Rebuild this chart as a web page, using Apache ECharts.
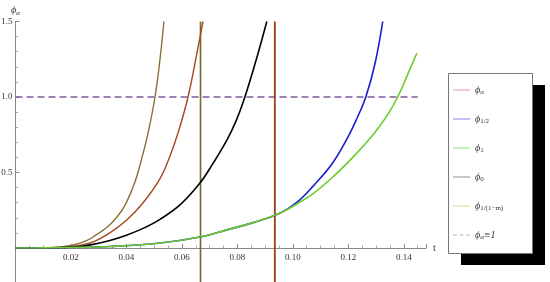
<!DOCTYPE html>
<html>
<head>
<meta charset="utf-8">
<script src="https://cdn.jsdelivr.net/npm/echarts@6.0.0/dist/echarts.min.js"></script>
<style>html,body{margin:0;padding:0;background:#fff;}#c{width:550px;height:282px;}</style>
</head>
<body>
<div id="c"></div>
<script>
// ---- data ----
const oliveT = [0, 0.01, 0.016, 0.022, 0.028, 0.0366, 0.0423, 0.0459, 0.0479, 0.0503, 0.0521, 0.0535];
const oliveV = [0, 0.001, 0.007, 0.025, 0.073, 0.205, 0.40, 0.62, 0.77, 1.0, 1.25, 1.5];

const redT = [0, 0.01, 0.016, 0.022, 0.028, 0.034, 0.0401, 0.046, 0.0521, 0.0557, 0.0589, 0.0622, 0.0653, 0.0676];
const redV = [0, 0.001, 0.004, 0.013, 0.04, 0.10, 0.185, 0.30, 0.46, 0.61, 0.78, 1.0, 1.28, 1.5];

const blackT = [0, 0.01, 0.016, 0.022, 0.028, 0.034, 0.040, 0.046, 0.0521, 0.0593, 0.0665, 0.0712, 0.0762, 0.0795, 0.0827, 0.087, 0.0906];
const blackV = [0, 0.0005, 0.002, 0.008, 0.024, 0.05, 0.085, 0.13, 0.19, 0.285, 0.43, 0.56, 0.715, 0.84, 1.0, 1.26, 1.5];

const blueT = [0, 0.01, 0.02, 0.034, 0.0521, 0.0665, 0.0762, 0.0857, 0.0953, 0.1013, 0.1073, 0.1144, 0.120, 0.123, 0.1263, 0.1296, 0.1324];
const blueV = [0, 0.0005, 0.003, 0.01, 0.033, 0.073, 0.12, 0.168, 0.23, 0.30, 0.41, 0.565, 0.74, 0.854, 1.0, 1.22, 1.5];

const greenT = [0, 0.01, 0.02, 0.034, 0.0521, 0.0665, 0.0762, 0.0857, 0.0953, 0.1013, 0.1073, 0.1144, 0.1216, 0.1266, 0.1306, 0.1346, 0.1378, 0.1414, 0.1447];
const greenV = [0, 0.0005, 0.003, 0.01, 0.033, 0.073, 0.12, 0.168, 0.23, 0.29, 0.36, 0.47, 0.60, 0.70, 0.79, 0.895, 1.0, 1.15, 1.29];

const unitLineT = [0, 0.145];
const unitLineV = [1, 1];

const vline1T = [0.0667, 0.0667];
const vline2T = [0.0935, 0.0935];
const vlineUpperV = [0, 1.5];
const vlineLowerV = [-0.225, 0];

const xTicks = [0.02, 0.04, 0.06, 0.08, 0.10, 0.12, 0.14];
const yTicks = [0.5, 1.0, 1.5];

const legendNames = ['phiA', 'phiHalf', 'phiOne', 'phiZero', 'phiM', 'phiEq1'];
const legendLabels = {
  phiA: '{b|ϕ}{s|α}',
  phiHalf: '{b|ϕ}{s|1/2}',
  phiOne: '{b|ϕ}{s|1}',
  phiZero: '{b|ϕ}{s|0}',
  phiM: '{b|ϕ}{s|1/(1−m)}',
  phiEq1: '{b|ϕ}{s|α}{b|≡1}'
};
const legendColors = ['#e49a96', '#8282ee', '#92dc82', '#8c8c8c', '#c8df98', '#b8b8c8'];

// ---- build ----
const zip = (t, v) => t.map((x, i) => [x, v[i]]);
const serif = 'Liberation Serif';
const axisGrey = '#888';
const solidIcon = 'path://M0,0H17V1H0Z';
const dashIcon = 'path://M0,0H4V1H0Z M6.5,0H10.5V1H6.5Z M13,0H17V1H13Z';

function lineSeries(name, t, v, color, width, extra) {
  return Object.assign({
    name: name, type: 'line', data: zip(t, v), showSymbol: false, symbol: 'none',
    smooth: 0.4,
    lineStyle: { color: color, width: width }, itemStyle: { color: color },
    animation: false, silent: true
  }, extra || {});
}

const chart = echarts.init(document.getElementById('c'), null, { renderer: 'canvas' });
chart.setOption({
  animation: false,
  backgroundColor: '#fff',
  grid: [
    { left: 15.5, right: 124, top: 21.5, bottom: 34, containLabel: false, outerBoundsMode: 'none' },
    { left: 15.5, right: 124, top: 248, bottom: 0, containLabel: false, outerBoundsMode: 'none' }
  ],
  xAxis: [{
    gridIndex: 0, type: 'value', min: 0, max: 0.148, interval: 0.02,
    name: 't', nameLocation: 'end', nameGap: 7,
    nameTextStyle: { fontFamily: serif, fontSize: 10, color: '#333', verticalAlign: 'middle' },
    axisLine: { onZero: false, lineStyle: { color: axisGrey, width: 1 } },
    axisTick: { inside: true, length: 4, lineStyle: { color: axisGrey } },
    minorTick: { show: true, splitNumber: 4, length: 2.5, lineStyle: { color: '#aaa' } },
    splitLine: { show: false },
    axisLabel: {
      fontFamily: serif, fontSize: 9, color: '#333', margin: 5, showMaxLabel: false,
      formatter: v => xTicks.some(x => Math.abs(x - v) < 1e-9) ? v.toFixed(2) : ''
    }
  }, {
    gridIndex: 1, type: 'value', min: 0, max: 0.148, show: false
  }],
  yAxis: [{
    gridIndex: 0, type: 'value', min: 0, max: 1.5, interval: 0.5,
    name: '{b|ϕ}{s|α}', nameLocation: 'end', nameGap: 5,
    nameTextStyle: {
      align: 'center',
      rich: {
        b: { fontFamily: serif, fontSize: 10, color: '#333', fontStyle: 'italic' },
        s: { fontFamily: serif, fontSize: 7, color: '#333', fontStyle: 'italic', padding: [5, 0, 0, 0] }
      }
    },
    axisLine: { onZero: false, lineStyle: { color: axisGrey, width: 1 } },
    axisTick: { inside: true, length: 4, lineStyle: { color: axisGrey } },
    minorTick: { show: true, splitNumber: 5, length: 2.5, lineStyle: { color: '#aaa' } },
    splitLine: { show: false },
    axisLabel: {
      fontFamily: serif, fontSize: 9, color: '#333', margin: 3,
      formatter: v => yTicks.some(y => Math.abs(y - v) < 1e-9) ? v.toFixed(1) : ''
    }
  }, {
    gridIndex: 1, type: 'value', min: -0.225, max: 0,
    axisLine: { onZero: false, lineStyle: { color: axisGrey, width: 1 } },
    axisTick: { show: false }, axisLabel: { show: false }, splitLine: { show: false }
  }],
  graphic: [
    { type: 'rect', z: 1, shape: { x: 461, y: 85, width: 84, height: 180 }, style: { fill: '#000' }, silent: true },
    { type: 'rect', z: 2, shape: { x: 448.5, y: 73.5, width: 84, height: 180 }, style: { fill: '#fff', stroke: '#777', lineWidth: 1 }, silent: true }
  ],
  legend: {
    z: 10, orient: 'vertical', left: 453, top: 85,
    padding: 0, itemGap: 18, itemWidth: 17, itemHeight: 14, itemTextGap: 12,
    selectedMode: false, symbolKeepAspect: true,
    data: legendNames.map((n, i) => ({
      name: n,
      icon: n === 'phiEq1' ? dashIcon : solidIcon,
      itemStyle: { color: legendColors[i], borderWidth: 0 }
    })),
    formatter: n => legendLabels[n],
    textStyle: {
      rich: {
        b: { fontFamily: serif, fontSize: 10, color: '#333', fontStyle: 'italic' },
        s: { fontFamily: serif, fontSize: 7, color: '#333', padding: [5, 0, 0, 0] }
      }
    }
  },
  series: [
    lineSeries('phiEq1', unitLineT, unitLineV, '#7b5c9c', 1.5, { smooth: false, lineStyle: { color: '#7b5c9c', width: 1.5, type: [7, 4] } }),
    lineSeries('vline1', vline1T, vlineUpperV, '#77692b', 1.6, { smooth: false }),
    lineSeries('vline2', vline2T, vlineUpperV, '#9c3d1c', 1.8, { smooth: false }),
    lineSeries('vline1b', vline1T, vlineLowerV, '#77692b', 1.6, { smooth: false, xAxisIndex: 1, yAxisIndex: 1 }),
    lineSeries('vline2b', vline2T, vlineLowerV, '#9c3d1c', 1.8, { smooth: false, xAxisIndex: 1, yAxisIndex: 1 }),
    lineSeries('phiM', oliveT, oliveV, '#8a7236', 1.4),
    lineSeries('phiA', redT, redV, '#a4471f', 1.4),
    lineSeries('phiZero', blackT, blackV, '#000000', 1.6),
    lineSeries('phiHalf', blueT, blueV, '#1c1cd2', 1.6),
    lineSeries('phiOne', greenT, greenV, '#6bcb2a', 1.6)
  ]
});
</script>
</body>
</html>
